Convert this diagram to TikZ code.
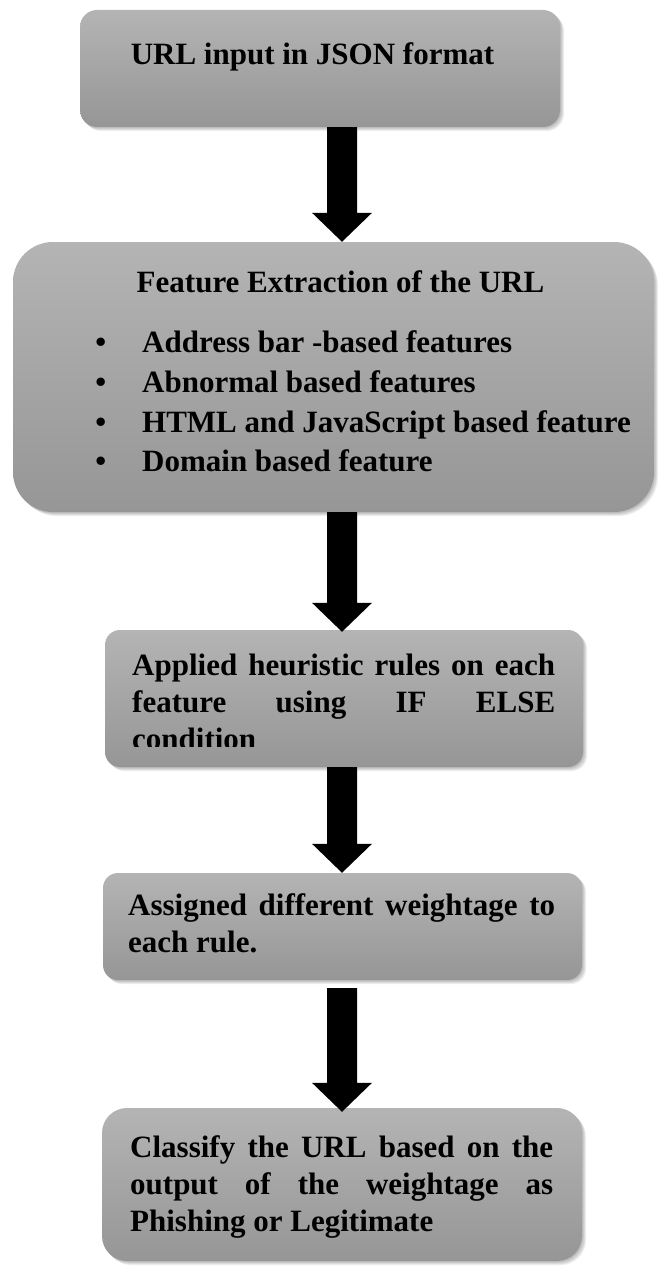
\documentclass[tikz,border=0pt]{standalone}
\usepackage{fontspec}
\setmainfont{Liberation Serif}
\usetikzlibrary{calc}
\definecolor{boxtop}{RGB}{180,180,180}
\definecolor{boxbottom}{RGB}{150,150,150}
\begin{document}
\begin{tikzpicture}[x=1pt,y=-1pt,
  softshadow/.style={preaction={fill=black, opacity=0.07, transform canvas={xshift=#1, yshift=-#1}}},
  box/.style={rectangle, draw=none, inner sep=0pt,
    softshadow=1pt, softshadow=2pt, softshadow=3pt, softshadow=4pt,
    top color=boxtop, bottom color=boxbottom},
  txt/.style={inner sep=0pt, font=\bfseries\fontsize{31}{37}\selectfont},
  blockarrow/.style={to path={
    let \p1=(\tikztostart), \p2=(\tikztotarget) in
    (\x1-15pt,\y1) -- (\x1+15pt,\y1) -- (\x1+15pt,\y2+29pt) -- (\x1+30pt,\y2+29pt)
    -- (\x2,\y2) -- (\x1-30pt,\y2+29pt) -- (\x1-15pt,\y2+29pt) -- cycle}}]
\fill[white] (0,0) rectangle (659,1268);
\useasboundingbox (0,0) rectangle (659,1268);

% process boxes
\node[box, minimum width=480pt, minimum height=117pt, rounded corners=17pt] (b1) at (320,68.5) {};
\node[box, minimum width=641pt, minimum height=270pt, rounded corners=40pt] (b2) at (333.5,377) {};
\node[box, minimum width=478pt, minimum height=137pt, rounded corners=15pt] (b3) at (344,698.5) {};
\node[box, minimum width=479pt, minimum height=107pt, rounded corners=15pt] (b4) at (342.5,926.5) {};
\node[box, minimum width=480pt, minimum height=153pt, rounded corners=25pt] (b5) at (342,1184.5) {};

% box texts
\node[txt, anchor=base] (t1) at (312.5,65) {URL input in JSON format};
\node[txt, anchor=base] (t2) at (340.5,292) {Feature Extraction of the URL};
\node[txt, anchor=base west] (i1) at (142,352) {\makebox[0pt][r]{\textbullet\hspace{36pt}}Address bar -based features};
\node[txt, anchor=base west] (i2) at (142,392) {\makebox[0pt][r]{\textbullet\hspace{36pt}}Abnormal based features};
\node[txt, anchor=base west] (i3) at (142,432) {\makebox[0pt][r]{\textbullet\hspace{36pt}}HTML and JavaScript based feature};
\node[txt, anchor=base west] (i4) at (142,471) {\makebox[0pt][r]{\textbullet\hspace{36pt}}Domain based feature};
\begin{scope}
  \clip (0,0) rectangle (659,746);
  \node[txt, anchor=base west] (t3) at (132,675) {\vtop{\hsize=423pt\parindent=0pt
    Applied heuristic rules on each\linebreak feature using IF ELSE\linebreak condition}};
\end{scope}
\node[txt, anchor=base west] (t4) at (128,915) {\vtop{\hsize=427pt\parindent=0pt
  Assigned different weightage to\linebreak each rule.}};
\node[txt, anchor=base west] (t5) at (130,1157) {\vtop{\hsize=423pt\parindent=0pt
  Classify the URL based on the\linebreak output of the weightage as\linebreak Phishing or Legitimate}};

% block arrows between the boxes
\coordinate (ax) at (342,0);
\fill (b1.south -| ax) to[blockarrow] (b2.north -| ax);
\fill (b2.south -| ax) to[blockarrow] ([yshift=-2pt]b3.north -| ax);
\fill (b3.south -| ax) to[blockarrow] (b4.north -| ax);
\fill ([yshift=-8pt]b4.south -| ax) to[blockarrow] ([yshift=-4pt]b5.north -| ax);
\end{tikzpicture}
\end{document}
